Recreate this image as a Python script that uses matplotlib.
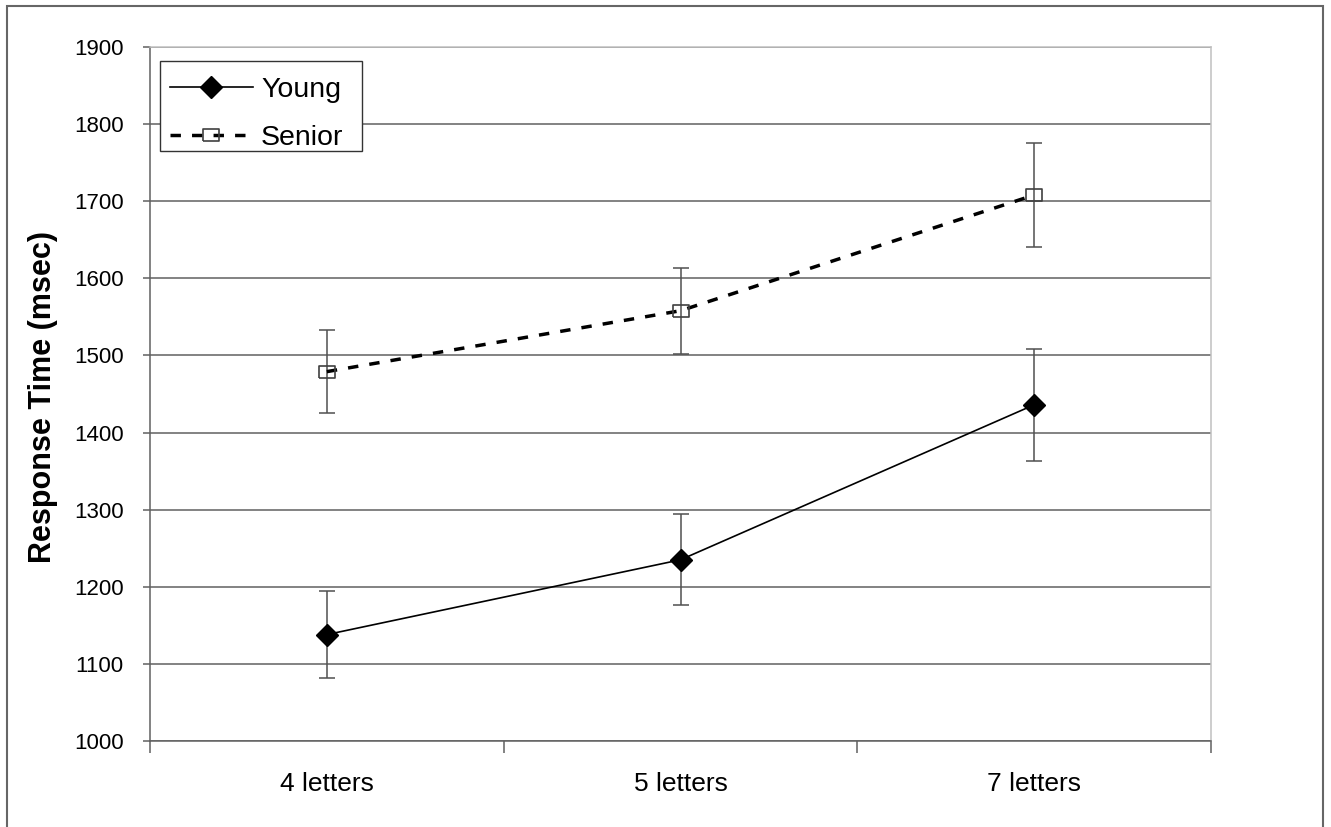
import matplotlib
matplotlib.use('Agg')
import matplotlib.pyplot as plt
from matplotlib.patches import Rectangle

# data
categories = ['4 letters', '5 letters', '7 letters']
young_rt = [1138, 1235, 1436]
young_err = [56, 59, 73]
senior_rt = [1479, 1558, 1708]
senior_err = [54, 56, 68]
y_ticks = list(range(1000, 1901, 100))

plt.rcParams['font.family'] = ['Liberation Sans', 'DejaVu Sans']

W, H = 1331, 827
fig = plt.figure(figsize=(W / 100, H / 100), dpi=100)
ax = fig.add_axes([150 / W, 86 / H, 1061 / W, 694 / H])

grey = '#606060'
x = [i + 0.5 for i in range(len(categories))]

# error bars first, markers sit on top
for vals, errs in [(young_rt, young_err), (senior_rt, senior_err)]:
    ax.errorbar(x, vals, yerr=errs, fmt='none', ecolor='#505050',
                elinewidth=1.1, capsize=5.8, capthick=1.1, zorder=3)

ax.plot(x, young_rt, '-', color='black', lw=1.2, marker='D', ms=11,
        mfc='black', mec='black', label='Young', zorder=4)

# slightly wide open square like the original
square = [(-1, -0.75), (1, -0.75), (1, 0.75), (-1, 0.75), (-1, -0.75)]
ax.plot(x, senior_rt, color='black', lw=2.5, dashes=(3, 3.2), marker=square,
        ms=12, mfc='none', mec='#404040', mew=1.2, label='Senior', zorder=4)

# axes formatting
ax.set_xlim(0, len(categories))
ax.set_ylim(y_ticks[0], y_ticks[-1])
ax.set_yticks(y_ticks)
ax.set_xticks(x)
ax.set_xticklabels(categories)
ax.set_xticks(range(len(categories) + 1), minor=True)

ax.set_axisbelow(True)
ax.yaxis.grid(True, color=grey, lw=1.1)

for side in ['left', 'bottom']:
    ax.spines[side].set_color(grey)
    ax.spines[side].set_linewidth(1.1)
for side in ['top', 'right']:
    ax.spines[side].set_color('#c0c0c0')
    ax.spines[side].set_linewidth(1.1)

ax.tick_params(axis='y', direction='out', length=5, width=1.1, color=grey,
               pad=14, labelsize=16)
ax.tick_params(axis='x', which='major', length=0, pad=22, labelsize=19)
ax.tick_params(axis='x', which='minor', direction='out', length=8.6,
               width=1.1, color=grey)

# legend box drawn separately so its padding matches the original
ax.add_patch(Rectangle((160 / W, (H - 151) / H), 202 / W, 90 / H,
                       transform=fig.transFigure, fc='white', ec='#333333',
                       lw=1.0, zorder=5, clip_on=False))
leg = ax.legend(loc='upper left', bbox_to_anchor=(160 / W, (H - 67) / H),
                bbox_transform=fig.transFigure, fontsize=20.5, frameon=False,
                handlelength=2.9, handletextpad=0.3, labelspacing=0.77,
                borderpad=0.35, borderaxespad=0)
leg.set_zorder(6)

fig.text(43 / W, (H - 397) / H, 'Response Time (msec)', rotation=90,
         ha='center', va='center', fontsize=22, fontweight='bold')

# outer frame of the original figure (no bottom edge visible)
fig.add_artist(Rectangle((7 / W, -0.05), (1323 - 7) / W, (H - 6) / H + 0.05,
                         transform=fig.transFigure, fill=False,
                         ec='#666666', lw=1.5, clip_on=False))

fig.savefig('out.png', dpi=100)
